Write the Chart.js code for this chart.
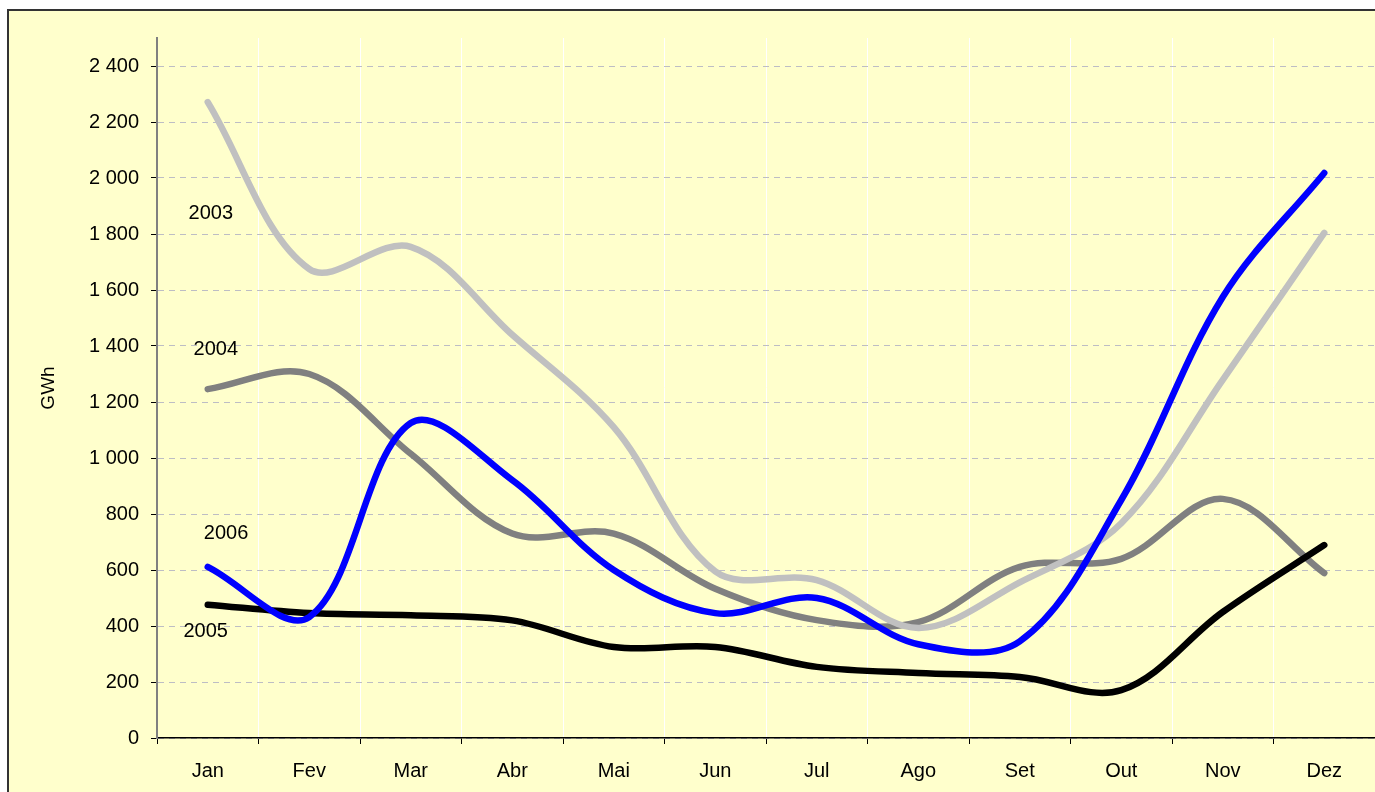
<!DOCTYPE html>
<html>
<head>
<meta charset="utf-8">
<script src="https://cdn.jsdelivr.net/npm/chart.js@4/dist/chart.umd.min.js"></script>
<style>
  html, body { margin: 0; padding: 0; background: #fff; overflow: hidden; }
  #frame {
    position: absolute; left: 7px; top: 9px; width: 1400px; height: 820px;
    background: #FFFFCC; border-left: 2px solid #333; border-top: 2px solid #333;
  }
  #chart { position: absolute; left: 0; top: 0; }
</style>
</head>
<body>
<div id="frame"></div>
<canvas id="chart" width="1375" height="792"></canvas>
<script>
const months = ['Jan', 'Fev', 'Mar', 'Abr', 'Mai', 'Jun', 'Jul', 'Ago', 'Set', 'Out', 'Nov', 'Dez'];

// GWh per month
const v2003 = [2271, 1675, 1754, 1440, 1110, 595, 564, 393, 556, 767, 1279, 1804];
const v2004 = [1246, 1300, 1015, 730, 730, 533, 421, 414, 611, 640, 854, 589];
const v2005 = [476, 446, 438, 420, 325, 325, 254, 232, 218, 171, 450, 689];
const v2006 = [611, 432, 1125, 921, 600, 446, 500, 335, 345, 850, 1575, 2018];

// year labels, anchored at (category index, GWh)
const yearLabels = [
  { text: '2003', at: 0.03, value: 1875 },
  { text: '2004', at: 0.08, value: 1386 },
  { text: '2006', at: 0.18, value: 732 },
  { text: '2005', at: -0.02, value: 379 }
];

const FONT = 'Liberation Sans, Arial, sans-serif';

function thousands(v) {
  return String(v).replace(/\B(?=(\d{3})+(?!\d))/g, ' ');
}

const yearLabelPlugin = {
  id: 'yearLabels',
  afterDatasetsDraw(chart) {
    const ctx = chart.ctx;
    const x = chart.scales.x, y = chart.scales.y;
    ctx.save();
    ctx.font = '20px ' + FONT;
    ctx.fillStyle = '#000';
    ctx.textAlign = 'center';
    ctx.textBaseline = 'middle';
    yearLabels.forEach(l => {
      ctx.fillText(l.text, x.getPixelForValue(l.at), y.getPixelForValue(l.value));
    });
    ctx.restore();
  }
};

function line(label, data, color, order) {
  return {
    label: label,
    data: data,
    borderColor: color,
    backgroundColor: color,
    borderWidth: 6.5,
    borderCapStyle: 'round',
    borderJoinStyle: 'round',
    pointRadius: 0,
    tension: 0.35,
    fill: false,
    order: order
  };
}

const ctx = document.getElementById('chart').getContext('2d');
new Chart(ctx, {
  type: 'line',
  data: {
    labels: months,
    datasets: [
      line('2003', v2003, '#C0C0C0', 3),
      line('2004', v2004, '#808080', 4),
      line('2005', v2005, '#000000', 2),
      line('2006', v2006, '#0000FF', 1)
    ]
  },
  plugins: [yearLabelPlugin],
  options: {
    responsive: false,
    animation: false,
    devicePixelRatio: 1,
    layout: { padding: { top: 38, left: 0, right: 0, bottom: 0 } },
    plugins: {
      legend: { display: false },
      tooltip: { enabled: false }
    },
    scales: {
      x: {
        offset: true,
        grid: {
          offset: true,
          color: '#FFFFFF',
          lineWidth: 1,
          tickLength: 6,
          tickColor: '#000'
        },
        border: { color: '#000', width: 1.5 },
        ticks: {
          color: '#000',
          font: { family: FONT, size: 20 },
          padding: 15,
          maxRotation: 0
        },
        afterFit(scale) { scale.height = 54; }
      },
      y: {
        min: 0,
        max: 2500,
        ticks: {
          stepSize: 200,
          color: '#000',
          font: { family: FONT, size: 20 },
          padding: 12,
          callback: v => thousands(v)
        },
        afterBuildTicks(scale) {
          scale.ticks = scale.ticks.filter(t => t.value <= 2400);
        },
        grid: {
          color: '#BDBDC4',
          lineWidth: 1,
          tickLength: 6,
          tickColor: '#000'
        },
        border: { color: '#808080', width: 2, dash: [6, 5] },
        title: {
          display: true,
          text: 'GWh',
          color: '#000',
          font: { family: FONT, size: 19 },
          padding: { top: 37, bottom: 0 }
        },
        afterFit(scale) { scale.width = 157; }
      }
    }
  }
});
</script>
</body>
</html>
